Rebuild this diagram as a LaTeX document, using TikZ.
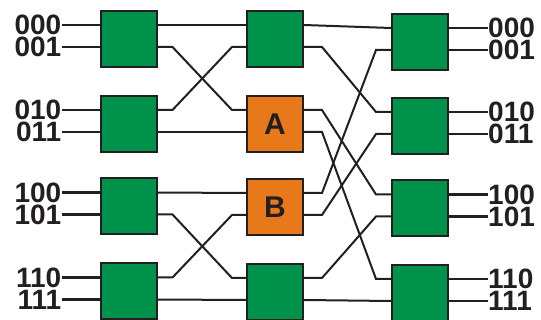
\documentclass[tikz,border=0pt]{standalone}
\usepackage{fontspec}
\setmainfont{Liberation Sans}
\usepackage{tikz}
\usetikzlibrary{calc,positioning}
\definecolor{fundo}{HTML}{FFFFFF}
\definecolor{traco}{HTML}{231F20}
\definecolor{verde}{HTML}{00924A}
\definecolor{laranja}{HTML}{E8791A}

\begin{document}
\begin{tikzpicture}[x=1pt,y=-1pt, font=\fontsize{28}{30}\selectfont\bfseries,
    sw/.style={draw=traco, line width=2pt, fill=#1, text=traco, minimum width=56pt, minimum height=56pt, inner sep=0pt, font=\fontsize{30}{32}\selectfont\bfseries},
    io/.style={line width=2.6pt, traco},
    fio/.style={line width=2pt, traco},
    lbl/.style={text=traco, inner sep=0pt}]
  \useasboundingbox[fill=fundo] (0,0) rectangle (541,320);
  % coluna 1
  \node[sw=verde] (a1) at (128.5,39) {};
  \node[sw=verde] (a2) at (128.5,124) {};
  \node[sw=verde] (a3) at (128.5,206.5) {};
  \node[sw=verde] (a4) at (128.5,291.5) {};
  % coluna 2
  \node[sw=verde] (b1) at (275,39) {};
  \node[sw=laranja] (b2) at (275,124) {A};
  \node[sw=laranja] (b3) at (275,207) {B};
  \node[sw=verde] (b4) at (275,292) {};
  % coluna 3
  \node[sw=verde] (c1) at (420,42) {};
  \node[sw=verde] (c2) at (420,126) {};
  \node[sw=verde] (c3) at (420,208.5) {};
  \node[sw=verde] (c4) at (420,293) {};
  % portas
  \foreach \b in {a1,a2,a3,a4,b1,b2,b3,b4,c1,c2,c3,c4}{
    \coordinate (\b-e0) at ($(\b.west)+(0,-14)$);
    \coordinate (\b-e1) at ($(\b.west)+(0,8)$);
    \coordinate (\b-s0) at ($(\b.east)+(0,-14)$);
    \coordinate (\b-s1) at ($(\b.east)+(0,8)$);
  }
  % entradas e saidas
  \foreach \b/\p/\t in {a1/e0/000, a1/e1/001, a2/e0/010, a2/e1/011, a3/e0/100, a3/e1/101, a4/e0/110, a4/e1/111}{
    \node[lbl, anchor=east] (l\t) at ($(\b-\p)+(-38,0)$) {\t};
    \draw[io] (l\t.east) -- (\b-\p);
  }
  \foreach \b/\p/\t in {c1/s0/000, c1/s1/001, c2/s0/010, c2/s1/011, c3/s0/100, c3/s1/101, c4/s0/110, c4/s1/111}{
    \node[lbl, anchor=west] (r\t) at ($(\b-\p)+(39,0)$) {\t};
    \draw[io] (\b-\p) -- (r\t.west);
  }
  % estagio 1 -> 2
  \draw[fio] (a1-s0) -- (b1-e0);
  \draw[fio] (a2-s1) -- (b2-e1);
  \draw[fio] (a3-s0) -- (b3-e0);
  \draw[fio] (a4-s1) -- (b4-e1);
  \foreach \o/\i in {a1-s1/b2-e0, a2-s0/b1-e1, a3-s1/b4-e0, a4-s0/b3-e1}
    \draw[fio] (\o) -- ++(15,0) -- ($(\i)+(-14,0)$) -- (\i);
  % estagio 2 -> 3
  \draw[fio] (b1-s0) -- (c1-e0);
  \draw[fio] (b4-s1) -- (c4-e1);
  \foreach \o/\i in {b1-s1/c2-e0, b2-s0/c3-e0, b2-s1/c4-e0, b3-s0/c1-e1, b3-s1/c2-e1, b4-s0/c3-e1}
    \draw[fio] (\o) -- ++(18,0) -- ($(\i)+(-15,0)$) -- (\i);
\end{tikzpicture}
\end{document}
